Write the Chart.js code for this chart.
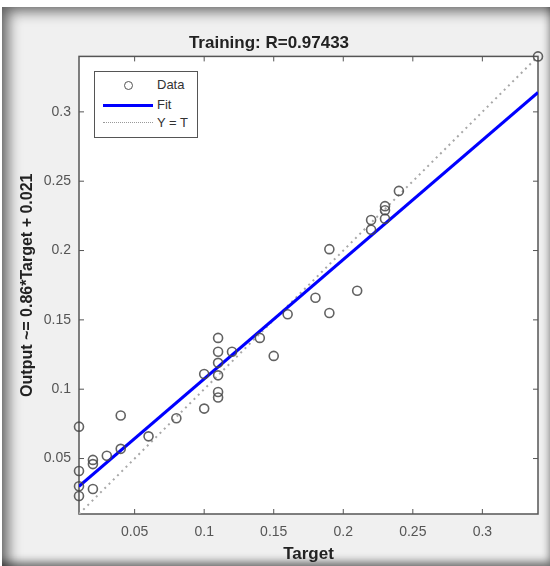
<!DOCTYPE html>
<html>
<head>
<meta charset="utf-8">
<script src="https://cdn.jsdelivr.net/npm/chart.js@4.4.1/dist/chart.umd.min.js"></script>
<style>
html, body { margin: 0; padding: 0; background: #fff; }
#frame {
  position: absolute; left: 2px; top: 7px; width: 548px; height: 559px;
  background: #f0f0f0;
  box-shadow: inset 12px 10px 14px -6px rgba(0,0,0,0.6), inset -4px -8px 8px -4px rgba(0,0,0,0.55);
}
#wrap { position: absolute; left: 0; top: 0; width: 550px; height: 566px; }
#legend {
  position: absolute; left: 94px; top: 71px; width: 104px; height: 67px;
  background: #fff; border: 1px solid #555; box-sizing: border-box;
  font: 13px "Liberation Sans", Arial, sans-serif; color: #333;
}
#legend .txt { position: absolute; left: 62px; line-height: 15px; }
#legend .circ { position: absolute; left: 29px; top: 9px; width: 7px; height: 7px; border: 1.5px solid #555; border-radius: 50%; }
#legend .fit { position: absolute; left: 8px; top: 32px; width: 50px; height: 3px; background: #0000ff; }
#legend .yt { position: absolute; left: 8px; top: 50px; width: 50px; border-top: 1px dotted #999; }
</style>
</head>
<body>
<div id="frame"></div>
<div id="wrap"><canvas id="chart" width="550" height="566"></canvas></div>
<div id="legend">
  <span class="circ"></span><span class="txt" style="top:5px">Data</span>
  <span class="fit"></span><span class="txt" style="top:25px">Fit</span>
  <span class="yt"></span><span class="txt" style="top:43px">Y = T</span>
</div>
<script>
// values
const targets = [0.01, 0.01, 0.01, 0.01, 0.02, 0.02, 0.02, 0.03, 0.04, 0.04, 0.06, 0.08,
  0.10, 0.10, 0.11, 0.11, 0.11, 0.11, 0.11, 0.11, 0.12, 0.14, 0.15, 0.16, 0.18,
  0.19, 0.19, 0.21, 0.22, 0.22, 0.23, 0.23, 0.23, 0.24, 0.34];
const outputs = [0.073, 0.041, 0.030, 0.023, 0.049, 0.046, 0.028, 0.052, 0.081, 0.057, 0.066, 0.079,
  0.111, 0.086, 0.137, 0.127, 0.119, 0.110, 0.098, 0.094, 0.127, 0.137, 0.124, 0.154, 0.166,
  0.201, 0.155, 0.171, 0.222, 0.215, 0.232, 0.229, 0.223, 0.243, 0.340];

const fitLine = [{x: 0.01, y: 0.030}, {x: 0.34, y: 0.314}];
const identityLine = [{x: 0.01, y: 0.01}, {x: 0.34, y: 0.34}];

const xTicks = [0.05, 0.1, 0.15, 0.2, 0.25, 0.3];
const xTickLabels = ['0.05', '0.1', '0.15', '0.2', '0.25', '0.3'];
const yTicks = [0.05, 0.1, 0.15, 0.2, 0.25, 0.3];
const yTickLabels = ['0.05', '0.1', '0.15', '0.2', '0.25', '0.3'];

const points = targets.map((t, i) => ({x: t, y: outputs[i]}));

const tickFont = {family: '"Liberation Sans", Arial, sans-serif', size: 14};
const titleFont = {family: '"Liberation Sans", Arial, sans-serif', size: 17, weight: 'bold'};

// white axes background, box outline and inward ticks like matlab
const boxPlugin = {
  id: 'box',
  beforeDraw(chart) {
    const {ctx, chartArea: a} = chart;
    ctx.save();
    ctx.fillStyle = '#fff';
    ctx.fillRect(a.left, a.top, a.right - a.left, a.bottom - a.top);
    ctx.restore();
  },
  beforeDatasetsDraw(chart) {
    const {ctx, chartArea: a, scales} = chart;
    ctx.save();
    ctx.strokeStyle = '#555';
    ctx.lineWidth = 1.5;
    ctx.strokeRect(a.left, a.top, a.right - a.left, a.bottom - a.top);
    ctx.lineWidth = 1;
    ctx.beginPath();
    xTicks.forEach(v => {
      const px = scales.x.getPixelForValue(v);
      ctx.moveTo(px, a.bottom); ctx.lineTo(px, a.bottom - 5);
      ctx.moveTo(px, a.top); ctx.lineTo(px, a.top + 5);
    });
    yTicks.forEach(v => {
      const py = scales.y.getPixelForValue(v);
      ctx.moveTo(a.left, py); ctx.lineTo(a.left + 5, py);
      ctx.moveTo(a.right, py); ctx.lineTo(a.right - 5, py);
    });
    ctx.stroke();
    ctx.restore();
  }
};

new Chart(document.getElementById('chart').getContext('2d'), {
  type: 'scatter',
  data: {
    datasets: [{
      label: 'Data',
      data: points,
      clip: false,
      pointStyle: 'circle',
      pointRadius: 4.5,
      pointBorderWidth: 1.6,
      borderColor: 'rgba(70,70,70,0.85)',
      backgroundColor: 'rgba(0,0,0,0)'
    }, {
      label: 'Fit',
      data: fitLine,
      showLine: true,
      pointRadius: 0,
      borderColor: '#0000ff',
      borderWidth: 3
    }, {
      label: 'Y = T',
      data: identityLine,
      showLine: true,
      pointRadius: 0,
      borderColor: '#a8a8a8',
      borderWidth: 2,
      borderDash: [2, 4]
    }]
  },
  options: {
    responsive: false,
    animation: false,
    layout: {padding: {left: 0, right: 12, top: 0, bottom: 0}},
    plugins: {
      legend: {display: false},
      tooltip: {enabled: false},
      title: {
        display: true,
        text: 'Training: R=0.97433',
        color: '#222',
        font: titleFont,
        padding: {top: 33, bottom: 3}
      }
    },
    scales: {
      x: {
        type: 'linear',
        min: 0.01,
        max: 0.34,
        afterBuildTicks: s => { s.ticks = xTicks.map(v => ({value: v})); },
        afterFit: s => { s.height = 52; },
        grid: {display: false, drawTicks: false},
        border: {display: false},
        ticks: {
          color: '#555',
          font: tickFont,
          padding: 10,
          maxRotation: 0,
          callback: (v, i) => xTickLabels[i]
        },
        title: {display: true, text: 'Target', color: '#222', font: titleFont, padding: {top: 0, bottom: 1}}
      },
      y: {
        type: 'linear',
        min: 0.01,
        max: 0.34,
        afterBuildTicks: s => { s.ticks = yTicks.map(v => ({value: v})); },
        afterFit: s => { s.width = 79; },
        grid: {display: false, drawTicks: false},
        border: {display: false},
        ticks: {
          color: '#555',
          font: tickFont,
          padding: 8,
          callback: (v, i) => yTickLabels[i]
        },
        title: {
          display: true,
          text: 'Output ~= 0.86*Target + 0.021',
          color: '#222',
          font: {family: '"Liberation Sans", Arial, sans-serif', size: 16, weight: 'bold'},
          padding: {top: 18, bottom: 0}
        }
      }
    }
  },
  plugins: [boxPlugin]
});
</script>
</body>
</html>
